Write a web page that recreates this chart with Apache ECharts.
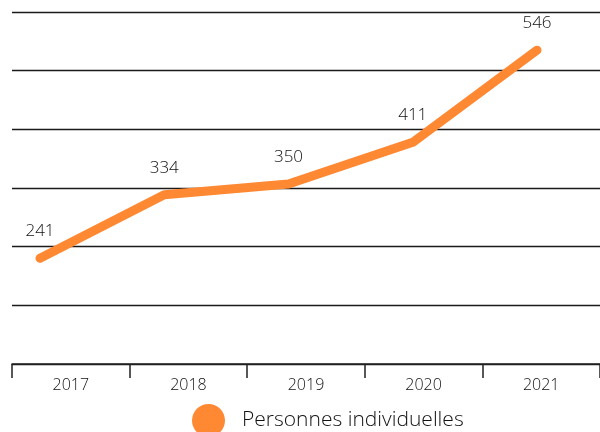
<!DOCTYPE html>
<html>
<head>
<meta charset="utf-8">
<script src="https://cdn.jsdelivr.net/npm/echarts@6/dist/echarts.min.js"></script>
<style>html,body{margin:0;padding:0;background:#fff}#c{width:600px;height:432px}</style>
</head>
<body>
<div id="c"></div>
<script>
var categories = ['2017', '2018', '2019', '2020', '2021'];
var seriesName = 'Personnes individuelles';
var values = [241, 334, 350, 411, 546];

var chart = echarts.init(document.getElementById('c'), null, {renderer: 'canvas'});
var FONT = '"Open Sans"';
var yMin = 86, yMax = 602, yStep = 86;
chart.setOption({
  animation: false,
  grid: [
    {left: 12, right: 0, top: 12, bottom: 68},
    {left: 40, right: 63, top: 12, bottom: 68}
  ],
  xAxis: [
    {
      type: 'category', gridIndex: 0, data: categories, boundaryGap: true,
      axisLine: {show: true, lineStyle: {color: '#222', width: 1.5}},
      axisTick: {show: true, inside: false, length: 14, lineStyle: {color: '#222', width: 1.5}},
      axisLabel: {color: '#111', fontSize: 16, fontWeight: 300, fontFamily: FONT, margin: 13}
    },
    {
      type: 'category', gridIndex: 1, data: categories, boundaryGap: false, show: false
    }
  ],
  yAxis: [
    {
      type: 'value', gridIndex: 0, min: yMin, max: yMax, interval: yStep,
      axisLine: {show: false}, axisTick: {show: false}, axisLabel: {show: false},
      splitLine: {show: true, lineStyle: {color: '#1a1a1a', width: 1.3}}
    },
    {
      type: 'value', gridIndex: 1, min: yMin, max: yMax, interval: yStep, show: false,
      splitLine: {show: false}
    }
  ],
  legend: {
    data: [{name: seriesName, icon: 'circle'}],
    left: 187, top: 399,
    itemWidth: 33, itemHeight: 33,
    textStyle: {color: '#111', fontSize: 21, fontWeight: 300, fontFamily: FONT, padding: [0, 0, 0, 12]}
  },
  series: [{
    name: seriesName,
    type: 'line',
    xAxisIndex: 1, yAxisIndex: 1,
    data: values,
    color: '#FF8833',
    showSymbol: true,
    symbol: 'circle',
    symbolSize: 1,
    itemStyle: {color: '#FF8833'},
    lineStyle: {color: '#FF8833', width: 9, cap: 'round', join: 'round'},
    label: {show: true, position: 'top', distance: 18, color: '#111', fontSize: 17, fontWeight: 300, fontFamily: FONT}
  }]
});
</script>
</body>
</html>
